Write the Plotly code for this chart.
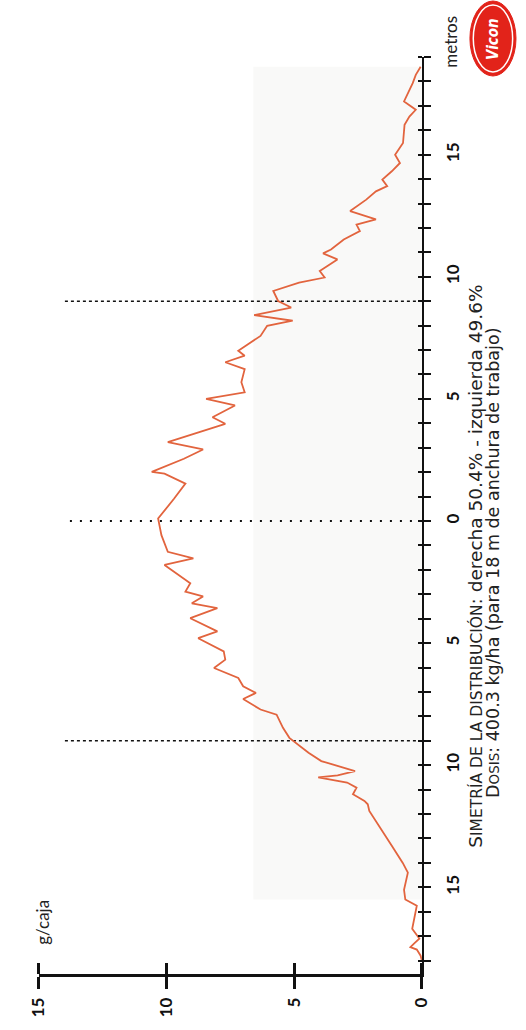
import plotly.graph_objects as go

# ---- data (meters across working width, g per collection box) ----
metros = [-18.0, -17.8, -17.55, -17.45, -17.3, -17.1, -16.7, -16.3, -16.0, -15.75,
          -15.5, -15.1, -14.4, -14.0, -13.3, -12.5, -11.87, -11.6, -11.46, -11.19,
          -10.92, -10.71, -10.5, -10.42, -10.24, -9.83, -9.49, -8.88, -8.47, -7.93,
          -7.72, -7.29, -7.04, -6.77, -6.43, -6.02, -5.68, -5.34, -4.80, -4.52,
          -3.98, -3.57, -3.37, -3.09, -2.89, -2.55, -1.80, -1.53, -1.26, -0.58,
          0.10, 0.92, 1.53, 1.94, 2.01, 2.55, 2.93, 3.23, 3.98, 4.25,
          4.73, 5.0, 5.27, 5.68, 6.22, 6.50, 6.77, 6.97, 7.24, 7.58,
          7.99, 8.20, 8.43, 8.74, 9.01, 9.42, 9.76, 9.97, 10.24, 10.71,
          10.96, 11.12, 11.53, 11.87, 12.14, 12.35, 12.69, 13.16, 13.50, 13.71,
          13.98, 14.32, 14.66, 15.0, 15.48, 16.22, 16.56, 16.84, 17.18, 17.93,
          18.27, 18.6]
g_caja = [0.0, 0.05, 0.2, 0.45, 0.3, 0.1, 0.38, 0.3, 0.24, 0.2,
          0.65, 0.7, 0.55, 0.75, 1.18, 1.68, 2.06, 2.12, 2.25, 2.7,
          2.56, 2.93, 4.06, 3.3, 2.62, 3.94, 4.44, 5.19, 5.44, 5.69,
          6.32, 7.0, 6.50, 7.0, 7.19, 8.14, 7.70, 7.76, 8.76, 8.01,
          9.07, 8.01, 9.01, 8.57, 9.26, 9.07, 10.08, 8.95, 9.95, 10.20,
          10.33, 9.70, 9.26, 10.08, 10.58, 9.32, 8.57, 9.95, 7.70, 8.20,
          7.32, 8.45, 6.94, 7.07, 6.94, 7.70, 6.94, 7.19, 6.82, 6.32,
          6.06, 5.06, 6.57, 5.12, 5.63, 5.82, 4.81, 3.81, 4.0, 3.31,
          3.87, 3.56, 3.06, 2.43, 2.56, 1.80, 2.81, 2.18, 1.80, 1.36,
          1.55, 1.18, 0.86, 1.05, 0.74, 0.68, 0.49, 0.24, 0.70, 0.36,
          0.24, 0.05]

g_ticks = [0, 5, 10, 15]
g_tick_labels = ["0", "5", "10", "15"]
m_ticks = [-15, -10, -5, 0, 5, 10, 15]
m_tick_labels = ["15", "10", "5", "0", "5", "10", "15"]
ref_lines_m = [-9, 0, 9]          # working width limits and centre
ref_line_extent = [0, 14]          # g/caja span of the dotted guides

TXT = "Lato, 'DejaVu Sans', sans-serif"
WIDE = "'DejaVu Sans', sans-serif"
LINE_COLOR = "#e2643e"

fig = go.Figure()

# faint background panel of the scan
fig.add_shape(type="rect", xref="x", yref="y", x0=0, x1=6.6, y0=-15.5, y1=18.6,
              fillcolor="#f9f9f8", line_width=0, layer="below")

# dotted reference lines
for m in ref_lines_m:
    fig.add_trace(go.Scatter(
        x=ref_line_extent, y=[m, m], mode="lines",
        line=dict(color="#111", width=1.6 if m != 0 else 1.8,
                  dash="dot" if m != 0 else "2px,8px"),
        hoverinfo="skip", showlegend=False))

# distribution curve
fig.add_trace(go.Scatter(
    x=g_caja, y=metros, mode="lines",
    line=dict(color=LINE_COLOR, width=1.8),
    showlegend=False, hoverinfo="skip"))

XD = [29 / 526, 428 / 526]
YD = [1 - 974 / 1030, 1 - 57 / 1030]

fig.update_layout(
    width=526, height=1030,
    margin=dict(l=0, r=0, t=0, b=0),
    paper_bgcolor="white", plot_bgcolor="rgba(0,0,0,0)",
    font=dict(family=TXT, color="#222"),
    xaxis=dict(domain=XD, range=[15, 0], anchor="y",
               showgrid=False, zeroline=False,
               showline=True, linecolor="#111", linewidth=2.5,
               ticks="outside", ticklen=12, tickwidth=2.5, tickcolor="#111",
               tickvals=g_ticks, ticktext=g_tick_labels, tickangle=-90,
               tickfont=dict(family=TXT, size=17, color="#111", weight="bold"),
               ticklabelstandoff=2),
    xaxis2=dict(domain=XD, range=[15, 0], overlaying="x", side="top",
                anchor="free", position=YD[0],
                showgrid=False, zeroline=False, showline=False,
                ticks="outside", ticklen=11, tickwidth=2.5, tickcolor="#111",
                tickvals=g_ticks, showticklabels=False),
    yaxis=dict(domain=YD, range=[-18.55, 19.0], anchor="x", side="right",
               showgrid=False, zeroline=False,
               showline=True, linecolor="#111", linewidth=2,
               ticks="outside", ticklen=7, tickwidth=2, tickcolor="#111",
               tickvals=m_ticks, ticktext=m_tick_labels, tickangle=-90,
               tickfont=dict(family=TXT, size=17, color="#111", weight="bold"),
               ticklabelstandoff=8,
               minor=dict(tick0=0, dtick=1, ticks="outside", ticklen=7,
                          tickwidth=2, tickcolor="#111")),
    yaxis2=dict(domain=YD, range=[-18.55, 19.0], overlaying="y", side="left",
                anchor="free", position=XD[1],
                showgrid=False, zeroline=False, showline=False,
                ticks="outside", ticklen=4, tickwidth=2, tickcolor="#111",
                tickvals=m_ticks, showticklabels=False,
                minor=dict(tick0=0, dtick=1, ticks="outside", ticklen=4,
                           tickwidth=2, tickcolor="#111")),
)
# dummy traces so overlaying axes are drawn
fig.add_trace(go.Scatter(x=[None], y=[None], xaxis="x2", yaxis="y2",
                         showlegend=False, hoverinfo="skip"))

annots = [
    dict(text="g/caja", x=32 / 526, y=1 - 922 / 1030, size=17, fam=TXT),
    dict(text="metros", x=458 / 526, y=1 - 42 / 1030, size=17, fam=TXT),
    dict(text="S<span style='font-size:15.5px'>IMETRÍA DE LA DISTRIBUCIÓN</span>: derecha 50.4% - izquierda 49.6%",
         x=483 / 526, y=1 - 566 / 1030, size=18.5, fam=WIDE),
    dict(text="D<span style='font-size:13.5px'>OSIS</span>: 400.3 kg/ha (para 18 m de anchura de trabajo)",
         x=502 / 526, y=1 - 563 / 1030, size=17.5, fam=WIDE),
]
for a in annots:
    fig.add_annotation(text=a["text"], x=a["x"], y=a["y"], xref="paper", yref="paper",
                       showarrow=False, textangle=-90, xanchor="center", yanchor="middle",
                       font=dict(family=a["fam"], size=a["size"], color="#222"))

# Vicon logo (decoration)
fig.add_shape(type="circle", xref="paper", yref="paper",
              x0=478 / 526, x1=526 / 526, y0=1 - 76 / 1030, y1=1 - 1 / 1030,
              fillcolor="#e2231a", line=dict(color="#e2231a", width=1))
fig.add_shape(type="circle", xref="paper", yref="paper",
              x0=481.5 / 526, x1=522.5 / 526, y0=1 - 72 / 1030, y1=1 - 5 / 1030,
              fillcolor="rgba(0,0,0,0)", line=dict(color="white", width=1.5))
fig.add_annotation(text="<b><i>Vicon</i></b>", x=502 / 526, y=1 - 39 / 1030,
                   xref="paper", yref="paper", showarrow=False, textangle=-90,
                   xanchor="center", yanchor="middle",
                   font=dict(family="'DejaVu Sans Condensed', 'DejaVu Sans', sans-serif",
                             size=15, color="white"))

fig.write_html("out.html")
